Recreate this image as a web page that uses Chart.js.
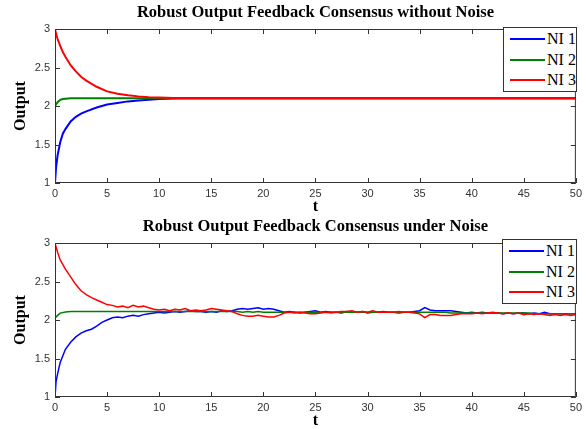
<!DOCTYPE html>
<html>
<head>
<meta charset="utf-8">
<script src="https://cdn.jsdelivr.net/npm/chart.js"></script>
<style>
  body { margin: 0; background: #fff; }
  #wrap { position: relative; width: 586px; height: 429px; }
  canvas { position: absolute; left: 0; }
  .legend { position: absolute; background: #fff; border: 1px solid #333; box-sizing: border-box;
            font: 16px "Liberation Serif", serif; color: #000; }
  .legend .row { position: absolute; left: 0; width: 100%; height: 20px; }
  .legend .swatch { position: absolute; left: 6px; top: 9px; width: 35px; height: 2px; }
  .legend .txt { position: absolute; left: 43px; top: 0; line-height: 20px; white-space: nowrap; }
</style>
</head>
<body>
<div id="wrap">
  <canvas id="top" width="586" height="215" style="top:0"></canvas>
  <canvas id="bottom" width="586" height="214" style="top:215px"></canvas>
</div>
<script>
// series names and colours
const names = ['NI 1', 'NI 2', 'NI 3'];
const colors = ['#0000ff', '#008000', '#ff0000'];

// upper plot: without noise
const tTop = [0, 0.1, 0.25, 0.5, 0.75, 1, 1.5, 2, 2.5, 3, 4, 5, 6, 7, 8, 9, 10, 12, 15, 20, 30, 40, 50];
const blueTop = [1.0, 1.2, 1.36, 1.53, 1.64, 1.7, 1.8, 1.86, 1.9, 1.93, 1.98, 2.02, 2.04, 2.06, 2.07, 2.08, 2.09, 2.1, 2.1, 2.1, 2.1, 2.1, 2.1];
const greenTop = [2.0, 2.02, 2.05, 2.08, 2.09, 2.095, 2.1, 2.1, 2.1, 2.1, 2.1, 2.1, 2.1, 2.1, 2.1, 2.1, 2.1, 2.1, 2.1, 2.1, 2.1, 2.1, 2.1];
const redTop = [3.0, 2.94, 2.87, 2.78, 2.7, 2.64, 2.53, 2.45, 2.38, 2.33, 2.25, 2.19, 2.16, 2.14, 2.125, 2.115, 2.11, 2.1, 2.1, 2.1, 2.1, 2.1, 2.1];

// lower plot: under noise
const tNoise = [
  0, 0.1, 0.25, 0.5, 1, 1.5, 2, 2.5, 3, 3.5,
  4, 4.5, 5, 5.5, 6, 6.5, 7, 7.5, 8, 8.5,
  9, 9.5, 10, 10.5, 11, 11.5, 12, 12.5, 13, 13.5,
  14, 14.5, 15, 15.5, 16, 16.5, 17, 17.5, 18, 18.5,
  19, 19.5, 20, 20.5, 21, 21.5, 22, 22.5, 23, 23.5,
  24, 24.5, 25, 25.5, 26, 26.5, 27, 27.5, 28, 28.5,
  29, 29.5, 30, 30.5, 31, 31.5, 32, 32.5, 33, 33.5,
  34, 34.5, 35, 35.5, 36, 36.5, 37, 37.5, 38, 38.5,
  39, 39.5, 40, 40.5, 41, 41.5, 42, 42.5, 43, 43.5,
  44, 44.5, 45, 45.5, 46, 46.5, 47, 47.5, 48, 48.5,
  49, 49.5, 50];
const blueNoise = [
  1.0, 1.2, 1.3, 1.45, 1.62, 1.71, 1.78, 1.83, 1.86, 1.88,
  1.92, 1.97, 2.0, 2.03, 2.04, 2.03, 2.05, 2.06, 2.05, 2.07,
  2.08, 2.09, 2.1, 2.09, 2.1, 2.11, 2.1, 2.11, 2.12, 2.11,
  2.11, 2.1, 2.11, 2.1, 2.12, 2.11, 2.12, 2.14, 2.15, 2.14,
  2.15, 2.16, 2.14, 2.15, 2.14, 2.12, 2.1, 2.11, 2.1, 2.09,
  2.1, 2.11, 2.12, 2.1, 2.11, 2.1, 2.1, 2.09, 2.11, 2.1,
  2.1, 2.11, 2.09, 2.1, 2.1, 2.11, 2.1, 2.1, 2.09, 2.1,
  2.1, 2.11, 2.12, 2.16, 2.13, 2.12, 2.12, 2.12, 2.12, 2.11,
  2.1, 2.09, 2.1, 2.09, 2.1, 2.09, 2.09, 2.09, 2.08, 2.09,
  2.08, 2.09, 2.09, 2.08, 2.09, 2.08, 2.1, 2.08, 2.08, 2.08,
  2.08, 2.08, 2.08];
const greenNoise = [
  2.02, 2.04, 2.06, 2.09, 2.105, 2.11, 2.11, 2.11, 2.11, 2.11,
  2.11, 2.11, 2.11, 2.11, 2.11, 2.11, 2.11, 2.11, 2.11, 2.11,
  2.11, 2.11, 2.11, 2.11, 2.11, 2.11, 2.11, 2.11, 2.11, 2.11,
  2.11, 2.11, 2.11, 2.11, 2.11, 2.11, 2.11, 2.11, 2.1, 2.11,
  2.1, 2.11, 2.1, 2.1, 2.1, 2.1, 2.1, 2.1, 2.1, 2.1,
  2.1, 2.1, 2.1, 2.1, 2.1, 2.1, 2.1, 2.1, 2.1, 2.1,
  2.1, 2.1, 2.1, 2.1, 2.1, 2.1, 2.1, 2.1, 2.1, 2.1,
  2.1, 2.1, 2.1, 2.1, 2.1, 2.1, 2.1, 2.1, 2.09, 2.09,
  2.09, 2.09, 2.09, 2.09, 2.09, 2.09, 2.09, 2.09, 2.09, 2.09,
  2.09, 2.09, 2.09, 2.09, 2.08, 2.08, 2.08, 2.08, 2.08, 2.08,
  2.08, 2.08, 2.08];
const redNoise = [
  3.0, 2.95, 2.88, 2.78, 2.66, 2.56, 2.46, 2.38, 2.33, 2.29,
  2.26, 2.23, 2.2, 2.19, 2.17, 2.18, 2.16, 2.19, 2.17, 2.18,
  2.16, 2.14, 2.13, 2.14, 2.12, 2.14, 2.13, 2.15, 2.12, 2.13,
  2.12, 2.13, 2.15, 2.14, 2.13, 2.12, 2.11, 2.08, 2.06, 2.05,
  2.05, 2.06, 2.05, 2.04, 2.04, 2.06, 2.09, 2.1, 2.09, 2.1,
  2.09, 2.08, 2.08, 2.09, 2.1, 2.09, 2.1, 2.11, 2.11, 2.12,
  2.1, 2.11, 2.1, 2.12, 2.1, 2.1, 2.1, 2.1, 2.11, 2.1,
  2.1, 2.09, 2.08, 2.03, 2.07, 2.07, 2.06, 2.06, 2.06, 2.07,
  2.08, 2.08, 2.08, 2.09, 2.08, 2.09, 2.1, 2.09, 2.08, 2.09,
  2.08, 2.09, 2.07, 2.08, 2.07, 2.08, 2.07, 2.06, 2.07, 2.06,
  2.07, 2.06, 2.07];

const xMin = 0, xMax = 50, xStep = 5;
const yMin = 1, yMax = 3, yStep = 0.5;

// matlab style frame with inward ticks
const boxPlugin = {
  id: 'matlabBox',
  afterDraw(chart) {
    const { ctx, chartArea: a, scales } = chart;
    ctx.save();
    ctx.strokeStyle = '#333';
    ctx.lineWidth = 1;
    ctx.strokeRect(a.left + 0.5, a.top + 0.5, a.right - a.left - 1, a.bottom - a.top - 1);
    ctx.beginPath();
    scales.x.ticks.forEach(function (t) {
      const px = Math.round(scales.x.getPixelForValue(t.value)) + 0.5;
      ctx.moveTo(px, a.bottom); ctx.lineTo(px, a.bottom - 5);
      ctx.moveTo(px, a.top); ctx.lineTo(px, a.top + 5);
    });
    scales.y.ticks.forEach(function (t) {
      const py = Math.round(scales.y.getPixelForValue(t.value)) + 0.5;
      ctx.moveTo(a.left, py); ctx.lineTo(a.left + 5, py);
      ctx.moveTo(a.right, py); ctx.lineTo(a.right - 5, py);
    });
    ctx.stroke();
    ctx.restore();
  }
};

function makeChart(id, titleText, titleTop, t, series, width) {
  const datasets = series.map(function (vals, i) {
    return {
      label: names[i],
      data: t.map(function (x, k) { return { x: x, y: vals[k] }; }),
      borderColor: colors[i],
      backgroundColor: colors[i],
      borderWidth: width,
      pointRadius: 0,
      tension: 0,
      order: series.length - i   // later series drawn on top, like matlab
    };
  });
  return new Chart(document.getElementById(id), {
    type: 'line',
    data: { datasets: datasets },
    plugins: [boxPlugin],
    options: {
      responsive: false,
      animation: false,
      events: [],
      layout: { padding: { left: 0, right: 9, top: 0, bottom: 0 } },
      plugins: {
        legend: { display: false },
        tooltip: { enabled: false },
        title: {
          display: true,
          text: titleText,
          fullSize: false,
          color: '#000',
          font: { family: 'Liberation Serif', size: 16.5, weight: 'bold', lineHeight: 1.1 },
          padding: { top: titleTop, bottom: 6.85 }
        }
      },
      scales: {
        x: {
          type: 'linear', min: xMin, max: xMax,
          grid: { display: false, drawTicks: false },
          border: { display: false },
          ticks: { stepSize: xStep, color: '#333', padding: 4, maxRotation: 0,
                   font: { family: 'Liberation Sans', size: 11 },
                   callback: function (v) { return String(v); } },
          title: { display: true, text: 't', color: '#000', padding: { top: 0, bottom: 0 },
                   font: { family: 'Liberation Serif', size: 16, weight: 'bold', lineHeight: 1 } },
          afterFit: function (s) { s.height = 32; }
        },
        y: {
          min: yMin, max: yMax,
          grid: { display: false, drawTicks: false },
          border: { display: false },
          ticks: { stepSize: yStep, color: '#333', padding: 5,
                   font: { family: 'Liberation Sans', size: 11 },
                   callback: function (v) { return String(v); } },
          title: { display: true, text: 'Output', color: '#000', padding: { top: 13, bottom: 0 },
                   font: { family: 'Liberation Serif', size: 16, weight: 'bold', lineHeight: 1 } },
          afterFit: function (s) { s.width = 55; }
        }
      }
    }
  });
}

function makeLegend(chart, left, top, w, h) {
  const box = document.createElement('div');
  box.className = 'legend';
  box.style.left = left + 'px';
  box.style.top = top + 'px';
  box.style.width = w + 'px';
  box.style.height = h + 'px';
  chart.data.datasets.forEach(function (ds, i) {
    const row = document.createElement('div');
    row.className = 'row';
    row.style.top = (1 + i * 20.5) + 'px';
    const sw = document.createElement('div');
    sw.className = 'swatch';
    sw.style.background = ds.borderColor;
    const tx = document.createElement('span');
    tx.className = 'txt';
    tx.textContent = ds.label;
    row.appendChild(sw);
    row.appendChild(tx);
    box.appendChild(row);
  });
  document.getElementById('wrap').appendChild(box);
}

const topChart = makeChart('top', 'Robust Output Feedback Consensus without Noise', 4, tTop,
  [blueTop, greenTop, redTop], 2);
const bottomChart = makeChart('bottom', 'Robust Output Feedback Consensus under Noise', 3, tNoise,
  [blueNoise, greenNoise, redNoise], 1.5);

makeLegend(topChart, 503, 27, 74, 65);
makeLegend(bottomChart, 502, 239, 75, 65);
</script>
</body>
</html>
